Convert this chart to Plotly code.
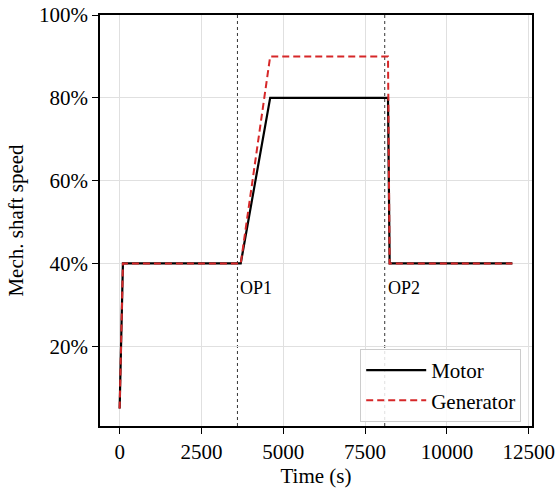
import plotly.graph_objects as go

# Shaft speed profiles (time in s, speed in % of rated)
time_motor = [0, 100, 3700, 4600, 8200, 8250, 12000]
speed_motor = [5, 40, 40, 80, 80, 40, 40]

time_generator = [0, 100, 3700, 4600, 8200, 8250, 12000]
speed_generator = [5, 40, 40, 90, 90, 40, 40]

# Operating points
op_times = [3600, 8100]
op_labels = ["OP1", "OP2"]
op_label_level = 34

x_ticks = [0, 2500, 5000, 7500, 10000, 12500]
y_ticks = [20, 40, 60, 80, 100]

FONT = "Liberation Serif"

fig = go.Figure()

for t in op_times:
    fig.add_vline(x=t, line=dict(color="black", width=0.8, dash="dot"), layer="below")

fig.add_trace(go.Scatter(
    x=time_motor, y=speed_motor, mode="lines", name="Motor",
    line=dict(color="black", width=2.2),
))
fig.add_trace(go.Scatter(
    x=time_generator, y=speed_generator, mode="lines", name="Generator",
    line=dict(color="#d62728", width=2.0, dash="7px,4px"),
))

for t, lab in zip(op_times, op_labels):
    fig.add_annotation(
        x=t, y=op_label_level, text=lab, showarrow=False,
        xanchor="left", yanchor="middle", xshift=1,
        font=dict(family=FONT, size=18, color="black"),
    )

axis_common = dict(
    showline=True, linecolor="black", linewidth=1.5, mirror=True,
    ticks="outside", ticklen=6, tickwidth=1.2, tickcolor="black",
    showgrid=True, gridcolor="#e0e0e0", gridwidth=0.8, zeroline=False,
    tickfont=dict(family=FONT, size=21, color="black"),
    automargin=False,
)

fig.update_xaxes(
    range=[-600, 12600], tickvals=x_ticks, ticktext=[str(v) for v in x_ticks],
    title=dict(text="Time (s)", font=dict(family=FONT, size=21, color="black"), standoff=4),
    **axis_common,
)
fig.update_yaxes(
    range=[0.75, 100], tickvals=y_ticks, ticktext=[f"{v}%" for v in y_ticks],
    title=dict(text="Mech. shaft speed", font=dict(family=FONT, size=21, color="black"), standoff=10),
    **axis_common,
)

fig.update_layout(
    width=555, height=490,
    margin=dict(l=100, r=23, t=15, b=64),
    plot_bgcolor="white", paper_bgcolor="white",
    legend=dict(
        x=0.975, y=0.01, xanchor="right", yanchor="bottom",
        bgcolor="rgba(255,255,255,0.85)", bordercolor="#cccccc", borderwidth=1,
        font=dict(family=FONT, size=21, color="black"),
        itemwidth=60,
    ),
    showlegend=True,
)

fig.write_html("out.html")
